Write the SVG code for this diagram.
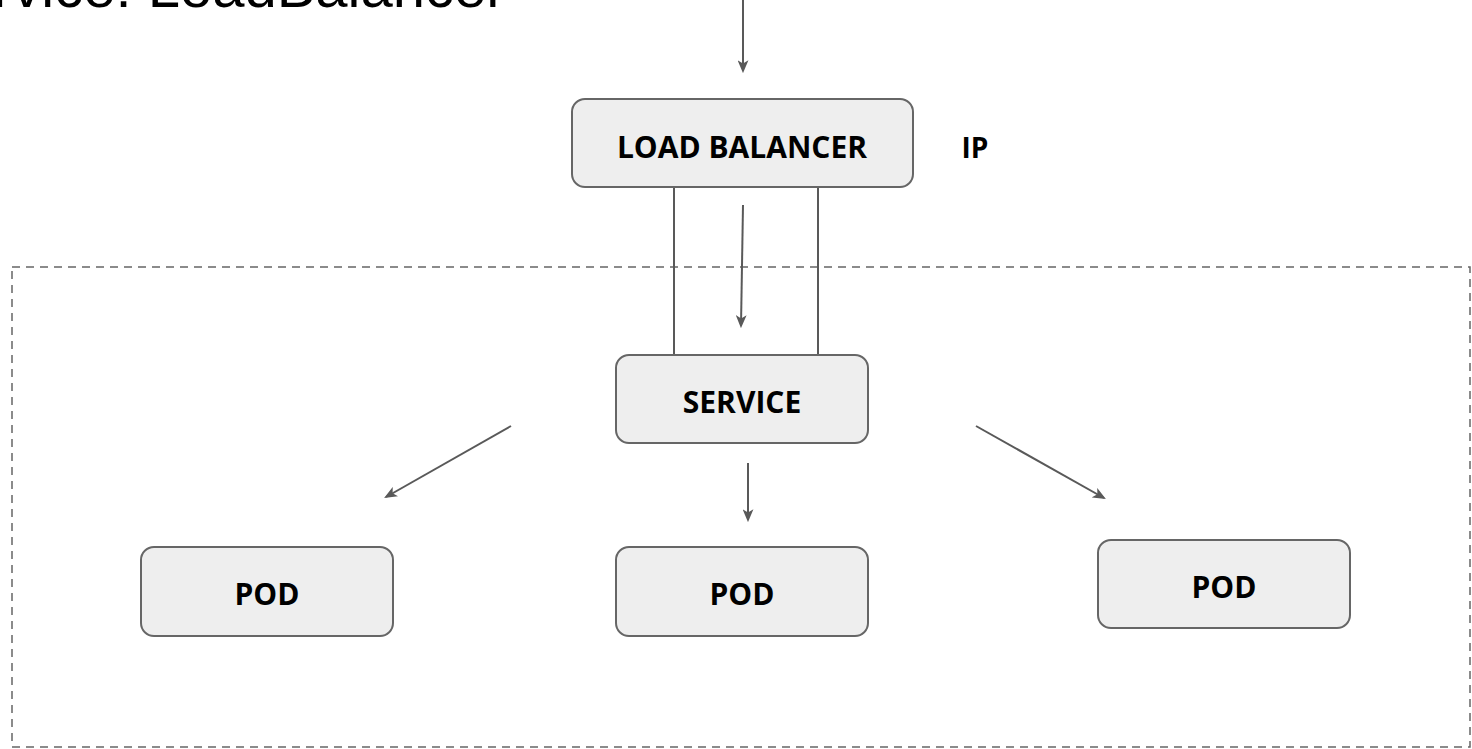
<svg xmlns="http://www.w3.org/2000/svg" width="1472" height="749" viewBox="0 0 1472 749">
  <style>
    .box { fill: #eeeeee; stroke: #666666; stroke-width: 2; }
    .label { font-family: "Open Sans", "Liberation Sans", sans-serif; font-weight: bold; font-size: 30px; fill: #000000; text-anchor: middle; }
    .title { font-family: "Liberation Sans", Arial, sans-serif; font-size: 58px; fill: #000000; }
    .link { stroke: #595959; stroke-width: 2; fill: none; }
    .arrow { stroke: #595959; stroke-width: 2; fill: none; marker-end: url(#head); }
    .frame { fill: none; stroke: #666666; stroke-width: 1.5; stroke-dasharray: 8 6; }
  </style>
  <defs>
    <marker id="head" viewBox="0 0 12 10" refX="10" refY="5" markerWidth="6.5" markerHeight="5.5" orient="auto" markerUnits="strokeWidth">
      <path d="M0,0 L12,5 L0,10 L3,5 Z" fill="#595959"/>
    </marker>
  </defs>

  <rect width="1472" height="749" fill="#ffffff"/>

  <!-- heading, partly above the top edge -->
  <text class="title" x="-78" y="7">Service: LoadBalancer</text>

  <!-- cluster boundary -->
  <rect class="frame" x="12" y="267" width="1458" height="480"/>

  <g id="connectors">
    <line class="arrow" x1="743" y1="0" x2="743" y2="71"/>
    <line class="link" x1="674" y1="187" x2="674" y2="354"/>
    <line class="link" x1="818" y1="187" x2="818" y2="354"/>
    <line class="arrow" x1="743" y1="205" x2="741" y2="326"/>
    <line class="arrow" x1="511" y1="426" x2="386" y2="497"/>
    <line class="arrow" x1="748" y1="463" x2="748" y2="520"/>
    <line class="arrow" x1="976" y1="426" x2="1104" y2="498"/>
  </g>

  <g id="load-balancer">
    <rect class="box" x="572" y="99" width="341" height="88" rx="13"/>
    <text class="label" x="742" y="158">LOAD BALANCER</text>
  </g>

  <g id="ip">
    <text class="label" x="975" y="158" style="font-size:28px">IP</text>
  </g>

  <g id="service">
    <rect class="box" x="616" y="355" width="252" height="88" rx="13"/>
    <text class="label" x="742" y="413">SERVICE</text>
  </g>

  <g id="pod-left">
    <rect class="box" x="141" y="547" width="252" height="89" rx="13"/>
    <text class="label" x="267" y="605">POD</text>
  </g>

  <g id="pod-middle">
    <rect class="box" x="616" y="547" width="252" height="89" rx="13"/>
    <text class="label" x="742" y="605">POD</text>
  </g>

  <g id="pod-right">
    <rect class="box" x="1098" y="540" width="252" height="88" rx="13"/>
    <text class="label" x="1224" y="598">POD</text>
  </g>
</svg>
